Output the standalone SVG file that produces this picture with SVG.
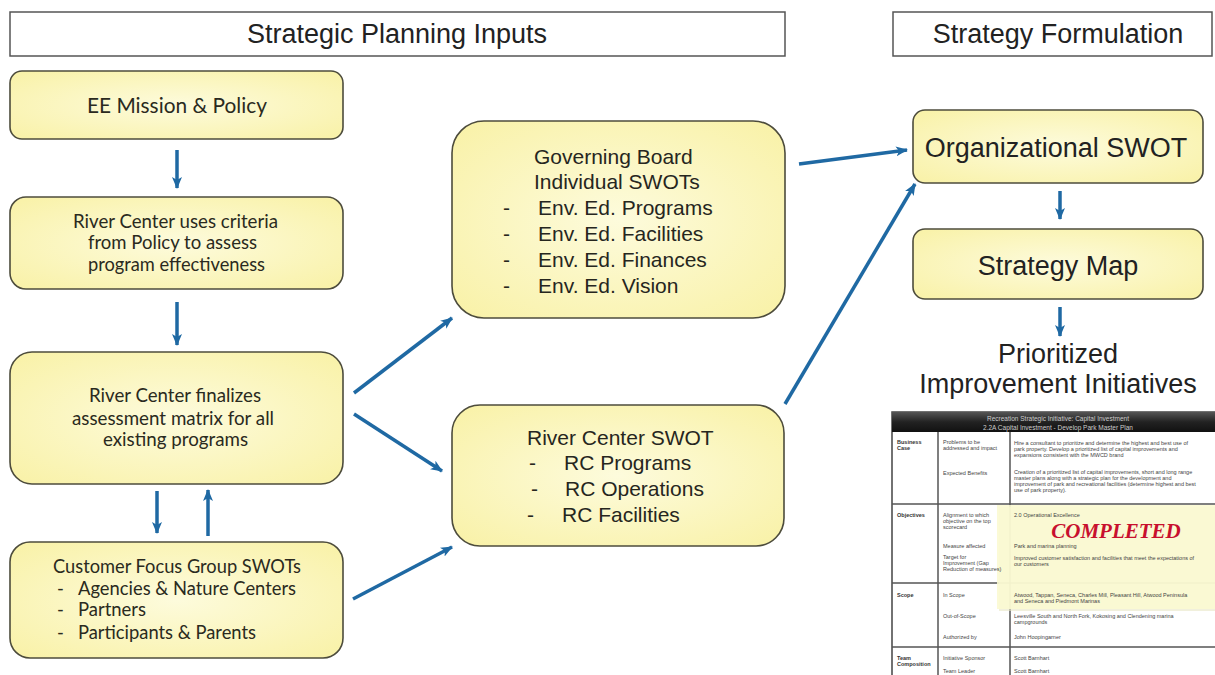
<svg xmlns="http://www.w3.org/2000/svg" width="1215" height="675" viewBox="0 0 1215 675">
<defs>
<radialGradient id="yel" cx="50%" cy="50%" r="65%">
<stop offset="0" stop-color="#fdfbdc"/>
<stop offset="1" stop-color="#f9f2aa"/>
</radialGradient>
<linearGradient id="dark" x1="0" y1="0" x2="0" y2="1">
<stop offset="0" stop-color="#555"/>
<stop offset="0.5" stop-color="#222"/>
<stop offset="1" stop-color="#111"/>
</linearGradient>
<marker id="ah" markerUnits="userSpaceOnUse" markerWidth="12" markerHeight="12" viewBox="0 0 12 12" refX="11" refY="6" orient="auto">
<path d="M0,1 L12,6 L0,11 L3,6 Z" fill="#1f69a3"/>
</marker>
<style>
.box{fill:url(#yel);stroke:#4d4c3c;stroke-width:1.6}
.hdr{fill:#fff;stroke:#555;stroke-width:1.5}
.ht{font-family:"Liberation Sans",Arial,sans-serif;font-size:27px;fill:#222;text-anchor:middle}
.cal{font-family:Lato,"Liberation Sans",sans-serif;fill:#2a2a20}
.tah{font-family:"Liberation Sans",Arial,sans-serif;font-size:21px;fill:#26261e}
.big{font-family:"Liberation Sans",Arial,sans-serif;font-size:27px;fill:#222;text-anchor:middle}
.con{stroke:#1f69a3;stroke-width:3.5;fill:none;marker-end:url(#ah)}
.tb{font-family:"Liberation Sans",Arial,sans-serif;font-size:5.5px;fill:#444}
.tbb{font-family:"Liberation Sans",Arial,sans-serif;font-size:5.5px;fill:#333;font-weight:bold}
.tl{stroke:#555;stroke-width:1.5}
</style>
</defs>
<rect width="1215" height="675" fill="#fff"/>

<g id="header-inputs">
<rect class="hdr" x="10" y="12" width="775" height="44"/>
<text class="ht" x="397" y="43">Strategic Planning Inputs</text>
</g>
<g id="header-formulation">
<rect class="hdr" x="893" y="12" width="319" height="44"/>
<text class="ht" x="1058" y="43">Strategy Formulation</text>
</g>

<g id="ee-mission">
<rect class="box" x="10" y="71" width="333" height="68" rx="12"/>
<text class="cal" x="87" y="113" font-size="21" textLength="180" lengthAdjust="spacingAndGlyphs">EE Mission &amp; Policy</text>
</g>

<g id="river-center-uses">
<rect class="box" x="10" y="197" width="333" height="92" rx="16"/>
<text class="cal" font-size="19" x="73" y="228" textLength="205" lengthAdjust="spacingAndGlyphs">River Center uses criteria</text>
<text class="cal" font-size="19" x="88" y="249" textLength="169" lengthAdjust="spacingAndGlyphs">from Policy to assess</text>
<text class="cal" font-size="19" x="88" y="271" textLength="177" lengthAdjust="spacingAndGlyphs">program effectiveness</text>
</g>

<g id="river-center-finalizes">
<rect class="box" x="10" y="352" width="333" height="132" rx="22"/>
<text class="cal" font-size="19" x="89" y="402" textLength="172" lengthAdjust="spacingAndGlyphs">River Center finalizes</text>
<text class="cal" font-size="19" x="72" y="425" textLength="202" lengthAdjust="spacingAndGlyphs">assessment matrix for all</text>
<text class="cal" font-size="19" x="103" y="446" textLength="145" lengthAdjust="spacingAndGlyphs">existing programs</text>
</g>

<g id="customer-focus">
<rect class="box" x="10" y="542" width="333" height="116" rx="20"/>
<text class="cal" font-size="18.5" x="53" y="573" textLength="248" lengthAdjust="spacingAndGlyphs">Customer Focus Group SWOTs</text>
<text class="cal" font-size="18.5" x="57" y="595">-</text>
<text class="cal" font-size="18.5" x="78" y="595" textLength="218" lengthAdjust="spacingAndGlyphs">Agencies &amp; Nature Centers</text>
<text class="cal" font-size="18.5" x="57" y="616">-</text>
<text class="cal" font-size="18.5" x="78" y="616" textLength="68" lengthAdjust="spacingAndGlyphs">Partners</text>
<text class="cal" font-size="18.5" x="57" y="639">-</text>
<text class="cal" font-size="18.5" x="78" y="639" textLength="178" lengthAdjust="spacingAndGlyphs">Participants &amp; Parents</text>
</g>

<g id="governing-board">
<rect class="box" x="452" y="121" width="333" height="197" rx="32"/>
<text class="tah" x="534" y="164">Governing Board</text>
<text class="tah" x="534" y="189">Individual SWOTs</text>
<text class="tah" x="503" y="215">-</text>
<text class="tah" x="538" y="215">Env. Ed. Programs</text>
<text class="tah" x="503" y="241">-</text>
<text class="tah" x="538" y="241">Env. Ed. Facilities</text>
<text class="tah" x="503" y="267">-</text>
<text class="tah" x="538" y="267">Env. Ed. Finances</text>
<text class="tah" x="503" y="293">-</text>
<text class="tah" x="538" y="293">Env. Ed. Vision</text>
</g>

<g id="river-center-swot">
<rect class="box" x="452" y="405" width="332" height="141" rx="28"/>
<text class="tah" x="527" y="445">River Center SWOT</text>
<text class="tah" x="529" y="470">-</text>
<text class="tah" x="564" y="470">RC Programs</text>
<text class="tah" x="531" y="496">-</text>
<text class="tah" x="565" y="496">RC Operations</text>
<text class="tah" x="527" y="522">-</text>
<text class="tah" x="562" y="522">RC Facilities</text>
</g>

<g id="organizational-swot">
<rect class="box" x="913" y="110" width="290" height="73" rx="12"/>
<text class="big" x="1056" y="157">Organizational SWOT</text>
</g>

<g id="strategy-map">
<rect class="box" x="913" y="229" width="290" height="70" rx="12"/>
<text class="big" x="1058" y="275">Strategy Map</text>
</g>

<g id="prioritized-initiatives">
<text class="big" x="1058" y="363">Prioritized</text>
<text class="big" x="1058" y="393">Improvement Initiatives</text>
</g>

<g id="connectors">
<line class="con" x1="177" y1="150" x2="177" y2="188"/>
<line class="con" x1="177" y1="302" x2="177" y2="345"/>
<line class="con" x1="157" y1="491" x2="157" y2="533"/>
<line class="con" x1="208" y1="536" x2="208" y2="490"/>
<line class="con" x1="354" y1="393" x2="452" y2="318"/>
<line class="con" x1="354" y1="414" x2="442" y2="471"/>
<line class="con" x1="353" y1="599" x2="452" y2="547"/>
<line class="con" x1="799" y1="164" x2="907" y2="150"/>
<line class="con" x1="785" y1="404" x2="915" y2="184"/>
<line class="con" x1="1060" y1="191" x2="1060" y2="219"/>
<line class="con" x1="1060" y1="307" x2="1060" y2="336"/>
</g>

<g id="initiative-table">
<rect x="892" y="412" width="330" height="270" fill="#fff" stroke="#444" stroke-width="1.5"/>
<rect x="892" y="412" width="330" height="20" fill="url(#dark)"/>
<text x="1058" y="421" font-family="Liberation Sans, Arial, sans-serif" font-size="6.5" fill="#ccc" text-anchor="middle">Recreation Strategic Initiative:  Capital Investment</text>
<text x="1058" y="429.5" font-family="Liberation Sans, Arial, sans-serif" font-size="6.5" fill="#ccc" text-anchor="middle">2.2A  Capital Investment - Develop Park Master Plan</text>
<line class="tl" x1="938" y1="432" x2="938" y2="675"/>
<line class="tl" x1="1010" y1="432" x2="1010" y2="675"/>
<line class="tl" x1="892" y1="504" x2="1215" y2="504"/>
<line class="tl" x1="892" y1="583" x2="1215" y2="583"/>
<line class="tl" x1="892" y1="647" x2="1215" y2="647"/>

<text class="tbb" x="897" y="444">Business</text>
<text class="tbb" x="897" y="450">Case</text>
<text class="tb" x="943" y="444">Problems to be</text>
<text class="tb" x="943" y="450">addressed and impact</text>
<text class="tb" x="1014" y="445">Hire a consultant to prioritize and determine the highest and best use of</text>
<text class="tb" x="1014" y="451">park property.  Develop a prioritized list of capital improvements and</text>
<text class="tb" x="1014" y="457">expansions consistent with the MWCD brand</text>
<text class="tb" x="943" y="475">Expected Benefits</text>
<text class="tb" x="1014" y="474">Creation of a prioritized list of capital improvements, short and long range</text>
<text class="tb" x="1014" y="480">master plans along with a strategic plan for the development and</text>
<text class="tb" x="1014" y="486">improvement of park and recreational facilities (determine highest and best</text>
<text class="tb" x="1014" y="492">use of park property).</text>

<rect x="999" y="507" width="220" height="104" fill="#e8e6c4" opacity="0.6"/>
<rect x="997" y="505" width="220" height="104" fill="#fbf9d2" opacity="0.9"/>

<text class="tbb" x="897" y="517">Objectives</text>
<text class="tb" x="943" y="517">Alignment to which</text>
<text class="tb" x="943" y="523">objective on the top</text>
<text class="tb" x="943" y="529">scorecard</text>
<text class="tb" x="1014" y="517">2.0  Operational Excellence</text>
<text x="1116" y="538" font-family="Liberation Serif, Times New Roman, serif" font-size="21" font-weight="bold" font-style="italic" fill="#c8102e" text-anchor="middle">COMPLETED</text>
<text class="tb" x="943" y="548">Measure affected</text>
<text class="tb" x="1014" y="548">Park and marina planning</text>
<text class="tb" x="943" y="559">Target for</text>
<text class="tb" x="943" y="565">Improvement (Gap</text>
<text class="tb" x="943" y="571">Reduction of measures)</text>
<text class="tb" x="1014" y="560">Improved customer satisfaction and facilities that meet the expectations of</text>
<text class="tb" x="1014" y="566">our customers</text>

<text class="tbb" x="897" y="597">Scope</text>
<text class="tb" x="943" y="597">In Scope</text>
<text class="tb" x="1014" y="597">Atwood, Tappan, Seneca, Charles Mill, Pleasant Hill, Atwood Peninsula</text>
<text class="tb" x="1014" y="603">and Seneca and Piedmont Marinas</text>
<text class="tb" x="943" y="618">Out-of-Scope</text>
<text class="tb" x="1014" y="618">Leesville South and North Fork, Kokosing and Clendening marina</text>
<text class="tb" x="1014" y="624">campgrounds</text>
<text class="tb" x="943" y="639">Authorized by</text>
<text class="tb" x="1014" y="639">John Hoopingarner</text>

<text class="tbb" x="897" y="660">Team</text>
<text class="tbb" x="897" y="666">Composition</text>
<text class="tb" x="943" y="660">Initiative Sponsor</text>
<text class="tb" x="1014" y="660">Scott Barnhart</text>
<text class="tb" x="943" y="673">Team Leader</text>
<text class="tb" x="1014" y="673">Scott Barnhart</text>
</g>
</svg>
